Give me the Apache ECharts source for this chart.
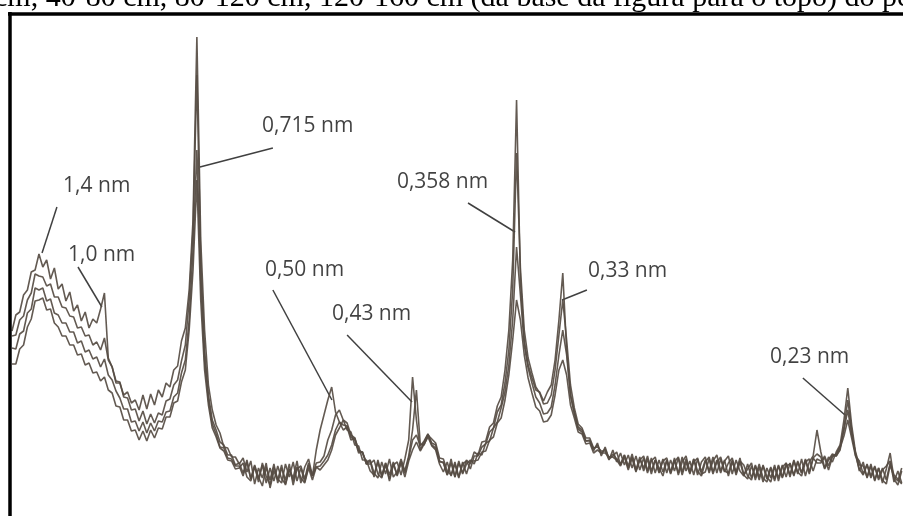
<!DOCTYPE html>
<html>
<head>
<meta charset="utf-8">
<script src="https://cdn.jsdelivr.net/npm/echarts@6/dist/echarts.min.js"></script>
<style>
html,body{margin:0;padding:0;background:#fff;}
#chart{width:903px;height:516px;}
</style>
</head>
<body>
<div id="chart"></div>
<script>
// 2θ scan grid (degrees): start and step of the diffractometer scan
const scanStart = 5.3;
const scanStep = 0.15;
const scanPoints = 232;

// Intensities (arbitrary units), one per scan step
const depth120_160 = [
185,201,204,221,226,244,246,262,249,256,
237,248,227,232,215,224,205,211,195,204,
188,197,193,207,223,158,149,133,133,121,
124,113,116,106,121,107,122,111,126,119,
133,129,146,150,175,188,226,296,479,276,
186,131,106,91,83,69,68,59,59,52,
58,44,55,32,48,38,53,28,45,36,
51,31,47,38,55,33,49,57,40,66,
86,101,116,129,104,94,86,89,76,78,
65,64,52,55,39,56,41,53,35,51,
54,41,57,76,139,96,66,74,82,71,
68,55,53,41,57,39,53,43,56,52,
64,61,74,75,89,93,110,119,146,186,
256,416,236,176,151,138,126,124,115,124,
131,156,196,243,166,121,103,89,86,75,
76,67,71,63,67,58,62,57,52,61,
50,62,46,59,45,57,42,56,48,40,
55,43,58,41,54,60,44,57,41,54,
59,43,55,61,45,56,40,54,44,58,
41,47,53,36,49,34,48,38,51,35,
49,53,39,55,42,57,40,54,60,86,
64,48,59,54,64,71,96,128,91,64,
51,50,39,52,36,48,33,47,63,37,31,45];

const depth80_120 = [
180,181,196,200,216,223,242,240,239,230,
232,219,219,209,208,200,199,188,189,180,
181,171,174,166,178,156,149,135,134,119,
118,106,107,95,105,92,102,93,103,101,
115,117,131,136,155,171,216,286,441,256,
166,121,96,86,74,71,61,61,51,53,
43,56,37,50,34,53,40,31,49,37,
33,52,39,54,35,48,34,51,40,53,
54,60,76,86,101,106,96,93,81,78,
66,63,54,56,43,38,54,42,57,39,
44,57,45,60,86,126,72,71,81,77,
73,58,57,45,41,54,39,52,55,47,
60,60,69,72,84,88,104,111,133,166,
226,363,248,186,158,143,129,123,112,113,
121,146,181,216,176,131,108,92,88,78,
78,68,69,65,65,56,66,54,63,51,
61,48,60,46,58,43,55,59,44,57,
43,56,45,58,41,54,42,57,45,40,
54,59,44,56,43,55,60,42,56,45,
40,52,38,50,36,51,39,34,49,38,
51,39,53,40,55,43,57,44,58,62,
59,47,56,62,60,66,88,116,86,61,
47,41,51,38,49,36,46,50,55,34,45,33];

const depth40_80 = [
168,167,182,185,203,207,228,226,228,215,
217,203,201,193,193,184,184,173,175,164,
166,157,159,149,157,141,136,125,118,107,
107,94,95,85,94,83,93,85,95,94,
104,105,119,123,143,156,196,266,366,236,
156,116,92,82,69,68,58,57,50,50,
40,54,37,51,39,30,49,36,52,33,
48,36,52,31,47,50,37,53,40,49,
50,55,61,71,86,94,91,90,79,76,
63,64,52,52,56,42,38,53,41,54,
40,55,43,58,76,81,70,75,82,73,
71,54,54,41,53,39,55,42,52,56,
52,63,61,73,75,88,94,108,124,151,
196,269,221,171,148,133,119,113,102,103,
109,131,161,186,161,121,103,87,84,75,
75,65,73,60,69,57,60,64,51,61,
48,59,45,57,48,60,45,56,43,55,
58,44,56,43,59,45,55,41,57,44,
56,45,59,43,57,44,53,58,43,55,
51,40,36,51,39,50,37,49,35,50,
39,53,41,56,44,40,54,57,45,57,
55,58,46,59,62,70,86,106,82,63,
45,54,38,50,35,48,36,32,51,39,35,48];

const depth0_40 = [
152,152,167,171,189,197,215,216,218,206,
207,193,189,180,180,171,171,161,162,151,
153,143,144,135,139,126,123,110,109,96,
96,85,86,76,85,75,86,78,88,87,
99,99,113,115,134,146,186,246,336,216,
146,111,88,79,68,65,56,55,47,48,
53,39,35,49,37,51,33,48,35,50,
37,32,47,35,49,38,33,48,36,49,
46,51,56,66,81,88,96,86,84,71,
70,56,56,45,41,54,39,51,37,52,
41,53,39,55,66,74,65,72,79,70,
66,52,44,54,40,52,38,54,42,55,
55,56,64,65,76,79,93,98,116,141,
176,216,196,161,138,123,109,105,94,95,
101,121,146,156,141,111,98,84,82,72,
73,63,66,63,63,59,59,56,50,59,
46,58,44,56,60,45,58,43,56,44,
56,42,54,59,44,57,43,54,58,42,
44,57,42,54,59,45,43,56,41,54,
41,37,50,39,52,38,34,48,37,51,
38,50,52,41,54,43,56,42,58,53,
53,60,50,61,60,68,80,96,78,60,
55,42,52,40,50,38,48,36,53,41,37,32];

const seriesNames = ['0-40 cm','40-80 cm','80-120 cm','120-160 cm'];

// Peak annotations: label text, label anchor (2θ, I), leader line from (2θ, I) to peak (2θ, I)
const peakLabels   = ['1,4 nm','1,0 nm','0,715 nm','0,50 nm','0,43 nm','0,358 nm','0,33 nm','0,23 nm'];
const labelTheta   = [7.29, 7.48, 15.04, 15.15, 17.76, 20.29, 27.73, 34.82];
const labelI       = [330, 261, 390, 246, 202, 334, 245, 159];
const leaderFromTh = [7.05, 7.87, 15.46, 15.46, 18.35, 23.06, 27.69, 36.10];
const leaderFromI  = [309, 249, 368, 226, 181, 313, 226, 138];
const leaderToTh   = [6.47, 8.80, 12.62, 17.76, 20.88, 24.89, 26.72, 37.74];
const leaderToI    = [263, 209, 349, 116, 114, 284, 216, 101];

const caption = 'cm, 40-80 cm, 80-120 cm, 120-160 cm (da base da figura para o topo) do perfil';

const twoTheta = Array.from({length: scanPoints}, (_, i) => +(scanStart + scanStep * i).toFixed(2));
const pairs = arr => arr.map((v, i) => [twoTheta[i], v]);
const allSeries = [depth0_40, depth40_80, depth80_120, depth120_160];

const lineColor = '#564c43';
const chart = echarts.init(document.getElementById('chart'), null, {renderer: 'canvas'});
const series = allSeries.map((arr, i) => ({
  name: seriesNames[i],
  type: 'line',
  data: pairs(arr),
  showSymbol: false,
  symbol: 'none',
  sampling: false,
  lineStyle: {color: lineColor, width: 1.6, opacity: 0.92},
  itemStyle: {color: lineColor},
  z: 2 + i
}));
series.push({
  name: 'annotations',
  type: 'scatter',
  symbolSize: 0,
  silent: true,
  z: 10,
  data: peakLabels.map((t, i) => ({value: [labelTheta[i], labelI[i]], name: t})),
  label: {
    show: true, position: 'right', distance: 0,
    formatter: p => p.name,
    fontFamily: '"Open Sans", sans-serif', fontSize: 21, color: '#111'
  },
  markLine: {
    silent: true, symbol: 'none', animation: false,
    label: {show: false},
    lineStyle: {color: '#404040', width: 1.5, type: 'solid'},
    data: peakLabels.map((t, i) => [
      {coord: [leaderFromTh[i], leaderFromI[i]]},
      {coord: [leaderToTh[i], leaderToI[i]]}
    ])
  }
});

chart.setOption({
  animation: false,
  backgroundColor: '#fff',
  grid: {left: 12, right: 0, top: 14, bottom: 0, containLabel: false},
  xAxis: {type: 'value', min: scanStart, max: 40, show: false},
  yAxis: {type: 'value', min: 0, max: 502, show: false},
  graphic: [
    {type: 'text', x: -6, y: -17, z: 20, silent: true,
     style: {text: caption, font: '30px "Liberation Serif", "Times New Roman", serif', fill: '#000', textVerticalAlign: 'top'}},
    {type: 'line', z: 20, silent: true, shape: {x1: 8, y1: 14, x2: 903, y2: 14}, style: {stroke: '#000', lineWidth: 3.5}},
    {type: 'line', z: 20, silent: true, shape: {x1: 10, y1: 12, x2: 10, y2: 516}, style: {stroke: '#000', lineWidth: 3.5}}
  ],
  series: series
});
</script>
</body>
</html>
